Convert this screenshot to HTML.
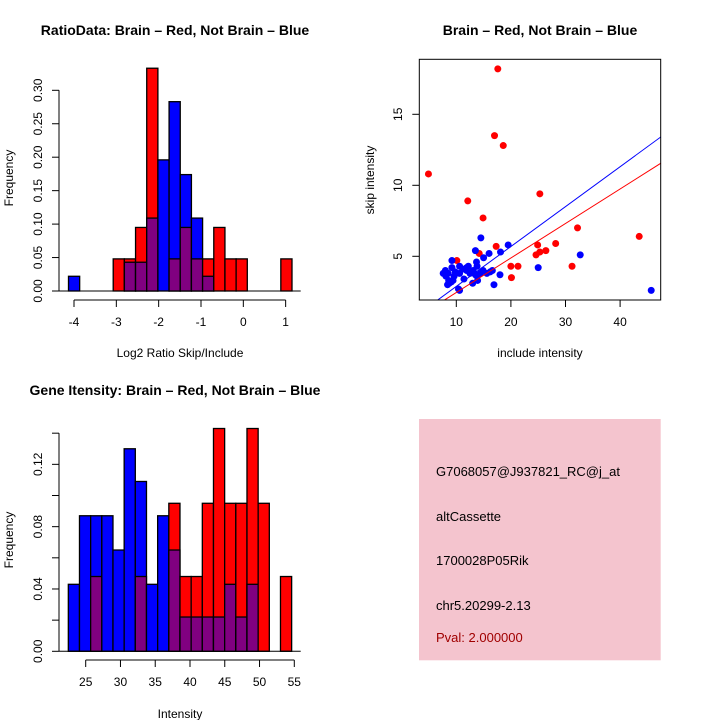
<!DOCTYPE html>
<html><head><meta charset="utf-8"><style>
body{margin:0;background:#fff}
svg{display:block;font-family:"Liberation Sans",sans-serif}
</style></head><body>
<svg id="c" width="720" height="720" viewBox="0 0 720 720" xmlns="http://www.w3.org/2000/svg">
<rect width="720" height="720" fill="#fff"/>
<g id="p1"></g>
<g id="p2"></g>
<g id="p3"></g>
<g id="p4">
<rect x="419" y="419" width="241.7" height="241.3" fill="#f4c4ce"/>
<text x="436" y="476" font-size="13">G7068057@J937821_RC@j_at</text>
<text x="436" y="521" font-size="13">altCassette</text>
<text x="436" y="565" font-size="13">1700028P05Rik</text>
<text x="436" y="610" font-size="13">chr5.20299-2.13</text>
<text x="436" y="642" font-size="13" fill="#a00000">Pval: 2.000000</text>
</g>
</svg>
<script>
// ---- Panel 1 data ----
const ratioBinStart = -4.13;
const ratioBinWidth = 0.264;
const ratioRed =  [0,0,0,0,0.048,0.048,0.095,0.333,0,0.048,0.095,0.048,0.048,0.095,0.048,0.048,0,0,0,0.048];
const ratioBlue = [0.022,0,0,0,0,0.043,0.043,0.109,0.196,0.283,0.174,0.109,0.022,0,0,0,0,0,0,0];
const ratioXTicks = [-4,-3,-2,-1,0,1];
const ratioYTicks = [0,0.05,0.10,0.15,0.20,0.25,0.30];
const ratioYLabels = ["0.00","0.05","0.10","0.15","0.20","0.25","0.30"];
// ---- Panel 2 data ----
const redX = [4.9,17.6,17.0,18.6,12.1,14.9,25.3,32.2,43.5,28.2,24.9,26.4,25.3,24.6,17.3,14.2,10.1,20.0,21.3,20.1,31.2];
const redY = [10.8,18.2,13.5,12.8,8.9,7.7,9.4,7.0,6.4,5.9,5.8,5.4,5.3,5.1,5.7,5.2,4.7,4.3,4.3,3.5,4.3];
const blueX = [45.7,32.7,25.0,19.5,18.1,18.0,16.9,14.5,13.5,16.0,15.0,13.7,13.8,16.6,15.6,13.0,13.8,12.5,11.9,11.4,10.6,10.6,9.8,9.2,9.2,8.0,8.1,8.6,8.4,9.1,9.6,10.4,10.6,8.7,13.1,14.4,13.5,13.9,11.9,8.5,9.4,12.2,14.9,16.2,7.6,11.2];
const blueY = [2.6,5.1,4.2,5.8,5.3,3.7,3.0,6.3,5.4,5.2,4.9,4.6,4.3,4.0,3.8,3.1,3.6,3.8,4.2,3.4,4.3,3.8,3.9,4.7,4.2,4.0,3.6,3.3,3.0,3.2,3.6,2.7,2.6,3.1,4.0,3.8,3.7,3.3,4.0,3.8,3.3,4.3,4.0,3.9,3.8,4.1];
const fitSlope = [0.281,0.243]; // blue, red
const fitIntercept = [0.07,0.02];
const scatXTicks = [10,20,30,40];
const scatYTicks = [5,10,15];
// ---- Panel 3 data ----
const intBinStart = 22.5;
const intBinWidth = 1.606;
const intRed =  [0,0,0.048,0,0,0,0.048,0,0,0.095,0.048,0.048,0.095,0.143,0.095,0.095,0.143,0.095,0,0.048];
const intBlue = [0.043,0.087,0.087,0.087,0.065,0.130,0.109,0.043,0.087,0.065,0.022,0.022,0.022,0.022,0.043,0.022,0.043,0,0,0];
const intXTicks = [25,30,35,40,45,50,55];
const intYTicks = [0,0.02,0.04,0.06,0.08,0.10,0.12,0.14];
const intYLabels = ["0.00","","0.04","","0.08","","0.12",""];

const NS="http://www.w3.org/2000/svg";
function mk(parent,tag,attrs,name,txt){const e=document.createElementNS(NS,tag);for(const k in attrs)e.setAttribute(k,attrs[k]);


if(txt!==undefined)e.textContent=txt;parent.appendChild(e);return e;}

function hist(g,o){
  const sx=v=>o.x0+(v-o.xv0)*o.xs, sy=v=>o.y0-v*o.ys;
  const n=o.red.length;
  for(let i=0;i<n;i++){
    const a=o.start+i*o.w, x=sx(a), w=o.w*o.xs;
    const r=o.red[i], b=o.blue[i], m=Math.min(r,b), top=Math.max(r,b);
    if(top<=0) continue;
    const col=r>=b?'#ff0000':'#0000ff';
    mk(g,'rect',{x:x,y:sy(top),width:w,height:top*o.ys,fill:col,stroke:'#000','stroke-width':1.3},'bar-'+(r>=b?'red':'blue')+'-'+i);
    if(m>0) mk(g,'rect',{x:x,y:sy(m),width:w,height:m*o.ys,fill:'#800080',stroke:'#000','stroke-width':1.3},'bar-overlap-'+i);
  }
  mk(g,'line',{x1:59,x2:300.7,y1:o.y0,y2:o.y0,stroke:'#000'},'baseline');
  const yt=o.yticks;
  mk(g,'line',{x1:59,x2:59,y1:sy(yt[0]),y2:sy(yt[yt.length-1]),stroke:'#000'},'y-axis');
  yt.forEach((v,i)=>{mk(g,'line',{x1:52,x2:59,y1:sy(v),y2:sy(v),stroke:'#000'},'y-tick');
    if(o.ylabels[i]) mk(g,'text',{x:0,y:0,'font-size':12,'text-anchor':'middle',transform:`translate(42,${sy(v)}) rotate(-90)`},'y-tick-label',o.ylabels[i]);});
  const xt=o.xticks;
  mk(g,'line',{x1:sx(xt[0]),x2:sx(xt[xt.length-1]),y1:o.xay,y2:o.xay,stroke:'#000'},'x-axis');
  xt.forEach(v=>{mk(g,'line',{x1:sx(v),x2:sx(v),y1:o.xay,y2:o.xay+7,stroke:'#000'},'x-tick');
    mk(g,'text',{x:sx(v),y:o.xay+26,'font-size':12,'text-anchor':'middle'},'x-tick-label',String(v));});
  mk(g,'text',{x:175,y:o.titleY,'font-size':14,'font-weight':'bold','text-anchor':'middle'},'chart-title',o.title);
  mk(g,'text',{x:180,y:o.xlabY,'font-size':12,'text-anchor':'middle'},'x-axis-title',o.xlab);
  mk(g,'text',{x:0,y:0,'font-size':12,'text-anchor':'middle',transform:`translate(13,${o.ylabY}) rotate(-90)`},'y-axis-title','Frequency');
}
hist(document.getElementById('p1'),{x0:74,xv0:-4,xs:42.33,y0:291,ys:669,start:ratioBinStart,w:ratioBinWidth,red:ratioRed,blue:ratioBlue,
  yticks:ratioYTicks,ylabels:ratioYLabels,xticks:ratioXTicks,xay:300,titleY:35,title:'RatioData: Brain \u2013 Red, Not Brain \u2013 Blue',xlab:'Log2 Ratio Skip/Include',xlabY:357,ylabY:178});
hist(document.getElementById('p3'),{x0:85.7,xv0:25,xs:6.953,y0:651.3,ys:1558,start:intBinStart,w:intBinWidth,red:intRed,blue:intBlue,
  yticks:intYTicks,ylabels:intYLabels,xticks:intXTicks,xay:660,titleY:395,title:'Gene Itensity: Brain \u2013 Red, Not Brain \u2013 Blue',xlab:'Intensity',xlabY:718,ylabY:540});

// scatter
(function(){
  const g=document.getElementById('p2');
  const L=419.3,R=660.7,T=59.3,B=300;
  const sx=v=>401.7+v*5.46, sy=v=>327.3-v*14.2;
  const clip=mk(g,'clipPath',{id:'sc'},'scatter-clip');
  mk(clip,'rect',{x:L,y:T,width:R-L,height:B-T},'clip-rect');
  const pg=mk(g,'g',{'clip-path':'url(#sc)'},'plot-area');
  redX.forEach((x,i)=>mk(pg,'circle',{cx:sx(x),cy:sy(redY[i]),r:3.5,fill:'#ff0000'},'point-red'));
  blueX.forEach((x,i)=>mk(pg,'circle',{cx:sx(x),cy:sy(blueY[i]),r:3.5,fill:'#0000ff'},'point-blue'));
  const cols=['#0000ff','#ff0000'];
  fitSlope.forEach((s,i)=>{const xa=0,xb=50;
    mk(pg,'line',{x1:sx(xa),y1:sy(fitIntercept[i]+s*xa),x2:sx(xb),y2:sy(fitIntercept[i]+s*xb),stroke:cols[i],'stroke-width':1},i?'fit-line-red':'fit-line-blue');});
  mk(g,'rect',{x:L,y:T,width:R-L,height:B-T,fill:'none',stroke:'#000'},'plot-frame');
  scatXTicks.forEach(v=>{mk(g,'line',{x1:sx(v),x2:sx(v),y1:B,y2:B+7,stroke:'#000'},'x-tick');
    mk(g,'text',{x:sx(v),y:B+26,'font-size':12,'text-anchor':'middle'},'x-tick-label',String(v));});
  scatYTicks.forEach(v=>{mk(g,'line',{x1:L-7,x2:L,y1:sy(v),y2:sy(v),stroke:'#000'},'y-tick');
    mk(g,'text',{x:0,y:0,'font-size':12,'text-anchor':'middle',transform:`translate(402,${sy(v)}) rotate(-90)`},'y-tick-label',String(v));});
  mk(g,'text',{x:540,y:35,'font-size':14,'font-weight':'bold','text-anchor':'middle'},'chart-title','Brain \u2013 Red, Not Brain \u2013 Blue');
  mk(g,'text',{x:540,y:357,'font-size':12,'text-anchor':'middle'},'x-axis-title','include intensity');
  mk(g,'text',{x:0,y:0,'font-size':12,'text-anchor':'middle',transform:'translate(374,180) rotate(-90)'},'y-axis-title','skip intensity');
})();
</script>
</body></html>
